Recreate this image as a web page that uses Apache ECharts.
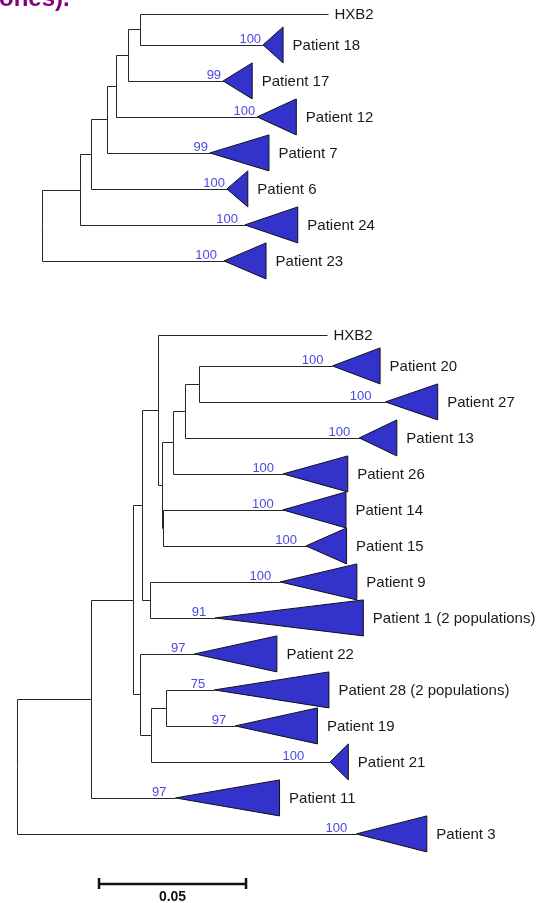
<!DOCTYPE html>
<html>
<head>
<meta charset="utf-8">
<script src="https://cdn.jsdelivr.net/npm/echarts@6/dist/echarts.min.js"></script>
<style>
  html, body { margin: 0; padding: 0; background: #ffffff; }
  #chart { width: 544px; height: 903px; }
</style>
</head>
<body>
<div id="chart"></div>
<script>
// ---------- Upper tree (preorder; branch lengths in substitutions/site) ----------
const upperNodes   = ['root', 'u1', 'u2', 'u3', 'u4', 'u5', 'u6', 'HXB2', 'Patient 18', 'Patient 17',
                      'Patient 12', 'Patient 7', 'Patient 6', 'Patient 24', 'Patient 23'];
const upperParents = [null, 'root', 'u1', 'u2', 'u3', 'u4', 'u5', 'u6', 'u6', 'u5',
                      'u4', 'u3', 'u2', 'u1', 'root'];
const upperLengths = [0, 0.0129, 0.0036, 0.0056, 0.0031, 0.0041, 0.0041, 0.0638, 0.0418, 0.0323,
                      0.0480, 0.0350, 0.0464, 0.0561, 0.0619];
// collapsed clades: name, depth of the triangle, bootstrap support
const upperClades     = ['Patient 18', 'Patient 17', 'Patient 12', 'Patient 7', 'Patient 6', 'Patient 24', 'Patient 23'];
const upperCladeDepth = [0.0068, 0.0099, 0.0133, 0.0201, 0.0071, 0.0180, 0.0143];
const upperBootstrap  = [100, 99, 100, 99, 100, 100, 100];

// ---------- Lower tree (preorder) ----------
const lowerNodes   = ['root', 'l1', 'l2', 'l3', 'l4', 'HXB2', 'l5', 'l6', 'l7', 'l8',
                      'Patient 20', 'Patient 27', 'Patient 13', 'Patient 26', 'l9', 'Patient 14', 'Patient 15',
                      'l10', 'Patient 9', 'Patient 1 (2 populations)', 'l11', 'Patient 22', 'l12', 'l13',
                      'Patient 28 (2 populations)', 'Patient 19', 'Patient 21', 'Patient 11', 'Patient 3'];
const lowerParents = [null, 'root', 'l1', 'l2', 'l3', 'l4', 'l4', 'l5', 'l6', 'l7',
                      'l8', 'l8', 'l7', 'l6', 'l5', 'l9', 'l9',
                      'l3', 'l10', 'l10', 'l2', 'l11', 'l11', 'l12',
                      'l13', 'l13', 'l12', 'l1', 'root'];
const lowerLengths = [0, 0.0252, 0.0141, 0.0032, 0.0053, 0.0576, 0.0014, 0.0037, 0.0043, 0.0048,
                      0.0453, 0.0633, 0.0592, 0.0376, 0.0006, 0.0406, 0.0485,
                      0.0027, 0.0443, 0.0222, 0.0026, 0.0185, 0.0036, 0.0051,
                      0.0165, 0.0236, 0.0610, 0.0287, 0.1154];
const lowerClades     = ['Patient 20', 'Patient 27', 'Patient 13', 'Patient 26', 'Patient 14', 'Patient 15',
                         'Patient 9', 'Patient 1 (2 populations)', 'Patient 22', 'Patient 28 (2 populations)',
                         'Patient 19', 'Patient 21', 'Patient 11', 'Patient 3'];
const lowerCladeDepth = [0.0162, 0.0178, 0.0128, 0.0220, 0.0215, 0.0138,
                         0.0261, 0.0504, 0.0280, 0.0390, 0.0280, 0.0062, 0.0354, 0.0240];
const lowerBootstrap  = [100, 100, 100, 100, 100, 100, 100, 91, 97, 75, 97, 100, 97, 100];

const scaleBarLength = 0.05;
const scaleBarLabel = '0.05';

// ---------- layout constants ----------
const PX_PER_UNIT = 2940;      // horizontal pixels per substitution/site
const ROW_PX = 36;             // pixels per collapsed-clade row
const CLADE_ROW = 1;           // row height of a collapsed clade
const TAXON_ROW = 0.72;        // row height of a single taxon
const FONT = '"Liberation Sans", Arial, Helvetica, sans-serif';
const LINE_COLOR = '#262626';
const TRI_FILL = '#3333cc';
const BOOT_COLOR = '#4a4ae2';
const bootstrapGap = { upper: 2, lower: 9 };
const bootstrapNudge = { 'Patient 24': 5, 'Patient 23': 5, 'Patient 21': 17, 'Patient 27': 5 };

function layoutTree(nodes, parents, lengths, clades, depths, boots) {
  const index = {};
  nodes.forEach((n, i) => { index[n] = i; });
  const children = nodes.map(() => []);
  parents.forEach((p, i) => { if (p !== null) children[index[p]].push(i); });
  const x = nodes.map(() => 0);
  nodes.forEach((n, i) => { if (parents[i] !== null) x[i] = x[index[parents[i]]] + lengths[i]; });
  const y = nodes.map(() => 0);
  let cursor = 0;
  (function place(i) {
    const c = children[i];
    if (!c.length) {
      const h = clades.indexOf(nodes[i]) >= 0 ? CLADE_ROW : TAXON_ROW;
      y[i] = cursor + h / 2;
      cursor += h;
      return;
    }
    c.forEach(place);
    y[i] = (y[c[0]] + y[c[c.length - 1]]) / 2;
  })(0);

  const edges = [];
  const tips = [];
  const taxa = [];
  nodes.forEach((n, i) => {
    if (parents[i] === null) return;
    const p = index[parents[i]];
    edges.push([x[p], y[p], x[i], y[i]]);
    if (!children[i].length) {
      const k = clades.indexOf(n);
      if (k >= 0) tips.push([x[i], y[i], depths[k], boots[k], n]);
      else taxa.push([x[i], y[i], n]);
    }
  });
  return { edges, tips, taxa };
}

const trees = {
  upper: layoutTree(upperNodes, upperParents, upperLengths, upperClades, upperCladeDepth, upperBootstrap),
  lower: layoutTree(lowerNodes, lowerParents, lowerLengths, lowerClades, lowerCladeDepth, lowerBootstrap)
};

const crisp = p => [Math.round(p[0]) + 0.5, Math.round(p[1]) + 0.5];

// elbow branch: vertical along the parent, then horizontal to the child
function branchRenderer(params, api) {
  const a = crisp(api.coord([api.value(0), api.value(1)]));
  const b = crisp(api.coord([api.value(0), api.value(3)]));
  const c = crisp(api.coord([api.value(2), api.value(3)]));
  return {
    type: 'polyline',
    shape: { points: [a, b, c] },
    style: { stroke: LINE_COLOR, lineWidth: 1, fill: null }
  };
}

// collapsed clade triangle with its bootstrap value and name
function cladeRenderer(treeKey) {
  return function (params, api) {
    const tipX = api.value(0), rowY = api.value(1), depth = api.value(2);
    const tip = api.coord([tipX, rowY]);
    const top = api.coord([tipX + depth, rowY - CLADE_ROW / 2]);
    const bot = api.coord([tipX + depth, rowY + CLADE_ROW / 2]);
    const name = trees[treeKey].tips[params.dataIndex][4];
    const boot = api.value(3);
    const gap = bootstrapGap[treeKey] + (bootstrapNudge[name] || 0);
    return {
      type: 'group',
      children: [
        {
          type: 'polygon',
          shape: { points: [tip, top, bot] },
          style: { fill: TRI_FILL, stroke: '#111111', lineWidth: 1 }
        },
        {
          type: 'text',
          style: {
            text: String(boot), x: tip[0] - gap, y: tip[1] + 1,
            fill: BOOT_COLOR, font: '13px ' + FONT,
            align: 'right', verticalAlign: 'bottom'
          }
        },
        {
          type: 'text',
          style: {
            text: name, x: top[0] + 9.5, y: tip[1] + 0.5,
            fill: '#1a1a1a', font: '15px ' + FONT,
            align: 'left', verticalAlign: 'middle'
          }
        }
      ]
    };
  };
}

// single-taxon leaf label
function taxonRenderer(treeKey) {
  return function (params, api) {
    const a = crisp(api.coord([api.value(0), api.value(1)]));
    return {
      type: 'text',
      style: {
        text: trees[treeKey].taxa[params.dataIndex][2],
        x: a[0] + 6, y: a[1] + 0.5,
        fill: '#1a1a1a', font: '15px ' + FONT,
        align: 'left', verticalAlign: 'middle'
      }
    };
  };
}

// scale bar position inside the lower panel
const SCALE_BAR_X = 0.0279;
const SCALE_BAR_ROW = 15.61;

function scaleRenderer(params, api) {
  const a = api.coord([api.value(0), api.value(2)]);
  const b = api.coord([api.value(1), api.value(2)]);
  const y = Math.round(a[1]);
  const stroke = { stroke: '#111111', lineWidth: 2.5 };
  return {
    type: 'group',
    children: [
      { type: 'line', shape: { x1: a[0], y1: y, x2: b[0], y2: y }, style: stroke },
      { type: 'line', shape: { x1: a[0], y1: y - 6, x2: a[0], y2: y + 5 }, style: stroke },
      { type: 'line', shape: { x1: b[0], y1: y - 6, x2: b[0], y2: y + 5 }, style: stroke },
      {
        type: 'text',
        style: {
          text: scaleBarLabel, x: (a[0] + b[0]) / 2, y: y + 13,
          fill: '#111111', font: 'bold 14px ' + FONT,
          align: 'center', verticalAlign: 'middle'
        }
      }
    ]
  };
}

const UPPER_LEFT = 42, LOWER_LEFT = 17;

function treeSeries(key, axis) {
  const t = trees[key];
  const common = { type: 'custom', xAxisIndex: axis, yAxisIndex: axis, clip: false, silent: true };
  return [
    Object.assign({ id: key + 'Branches', renderItem: branchRenderer, data: t.edges }, common),
    Object.assign({ id: key + 'Clades', renderItem: cladeRenderer(key), data: t.tips.map(r => r.slice(0, 4)) }, common),
    Object.assign({ id: key + 'Taxa', renderItem: taxonRenderer(key), data: t.taxa.map(r => r.slice(0, 2)) }, common)
  ];
}

const chart = echarts.init(document.getElementById('chart'), null, { renderer: 'canvas' });
chart.setOption({
  animation: false,
  backgroundColor: '#ffffff',
  grid: [
    { left: UPPER_LEFT, top: 1, width: 544 - UPPER_LEFT, height: 8 * ROW_PX },
    { left: LOWER_LEFT, top: 322, width: 544 - LOWER_LEFT, height: 16 * ROW_PX }
  ],
  xAxis: [
    { type: 'value', gridIndex: 0, min: 0, max: (544 - UPPER_LEFT) / PX_PER_UNIT, show: false },
    { type: 'value', gridIndex: 1, min: 0, max: (544 - LOWER_LEFT) / PX_PER_UNIT, show: false }
  ],
  yAxis: [
    { type: 'value', gridIndex: 0, min: 0, max: 8, inverse: true, show: false },
    { type: 'value', gridIndex: 1, min: 0, max: 16, inverse: true, show: false }
  ],
  graphic: [
    {
      type: 'text', x: -1, y: -0.5,
      style: { text: 'ones).', fill: '#800080', font: 'bold 24px ' + FONT, verticalAlign: 'middle', align: 'left' }
    }
  ],
  series: [].concat(
    treeSeries('upper', 0),
    treeSeries('lower', 1),
    [{
      id: 'scaleBar', type: 'custom', xAxisIndex: 1, yAxisIndex: 1, clip: false, silent: true,
      renderItem: scaleRenderer, data: [[SCALE_BAR_X, SCALE_BAR_X + scaleBarLength, SCALE_BAR_ROW]]
    }]
  )
});
</script>
</body>
</html>
